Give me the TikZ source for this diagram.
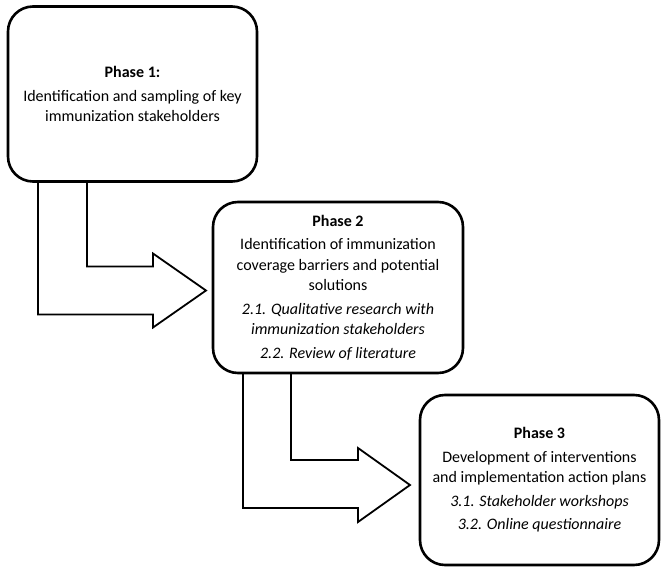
\documentclass[tikz,border=0pt]{standalone}
\usepackage{fontspec}
\setmainfont{Carlito}
\usetikzlibrary{positioning, calc}

\begin{document}
\begin{tikzpicture}[
    x=1pt, y=1pt,
    every node/.style={font=\fontsize{16}{20.5}\selectfont},
    phase/.style={
        rectangle,
        rounded corners=25pt,
        draw=black,
        fill=white,
        line width=2.6pt,
        outer sep=0pt,
        inner sep=0pt,
        align=center
    },
    bentarrow/.style={
        draw=black,
        line width=1.8pt,
        line join=miter
    }
]
\useasboundingbox (0,0) rectangle (662,-568);

% Phase boxes
\node[phase, minimum width=249, minimum height=175] (phase1) at (132.5,-94)
    {\textbf{Phase 1:}\\[3pt]Identification and sampling of key\\immunization stakeholders};

\node[phase, minimum width=250, minimum height=171] (phase2) at (338,-287.5)
    {\textbf{Phase 2}\\[3pt]Identification of immunization\\coverage barriers and potential\\solutions\\[3pt]
     \textit{2.1. Qualitative research with}\\\textit{immunization stakeholders}\\[3pt]\textit{2.2. Review of literature}};

\node[phase, minimum width=239, minimum height=170] (phase3) at (539.5,-480)
    {\textbf{Phase 3}\\[3pt]Development of interventions\\and implementation action plans\\[3pt]
     \textit{3.1. Stakeholder workshops}\\[3pt]\textit{3.2. Online questionnaire}};

% Bent arrows between phases
\coordinate (tip1) at ($(phase2.west)+(-7,-3)$);
\draw[bentarrow] ($(phase1.south west)+(30,0)$) |- ($(tip1)+(-53,-24)$) -- ++(0,-13) -- (tip1)
    -- ($(tip1)+(-53,37)$) -- ++(0,-13) -| ($(phase1.south west)+(79,0)$);

\coordinate (tip2) at ($(phase3.west)+(-10,-5)$);
\draw[bentarrow] ($(phase2.south west)+(30,0)$) |- ($(tip2)+(-52,-23)$) -- ++(0,-14) -- (tip2)
    -- ($(tip2)+(-52,37)$) -- ++(0,-12) -| ($(phase2.south west)+(78,0)$);

\end{tikzpicture}
\end{document}
